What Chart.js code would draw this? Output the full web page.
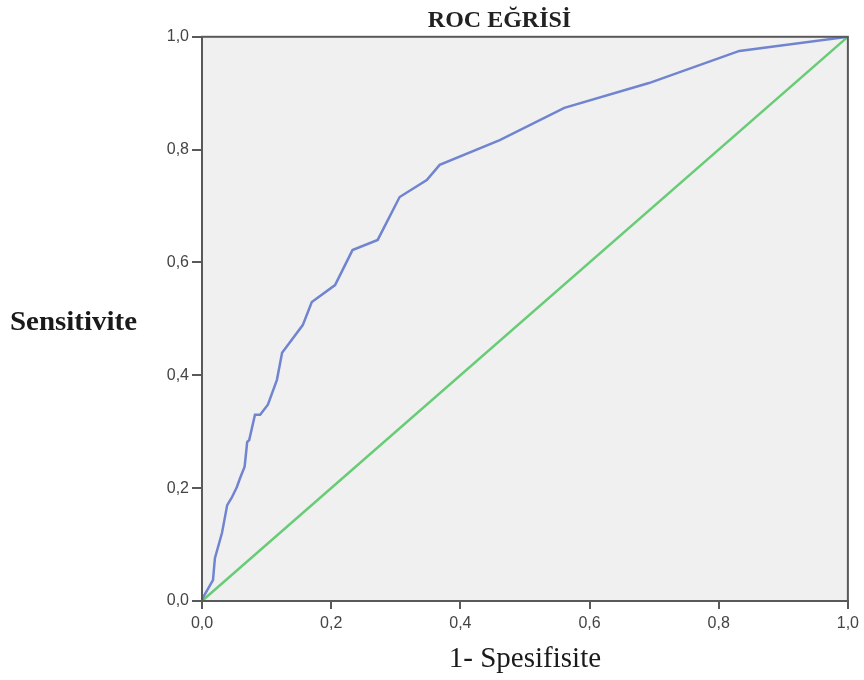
<!DOCTYPE html>
<html>
<head>
<meta charset="utf-8">
<script src="https://cdn.jsdelivr.net/npm/chart.js@4.4.1/dist/chart.umd.min.js"></script>
<style>
  html, body { margin: 0; padding: 0; background: #ffffff; }
  #wrap { position: relative; width: 864px; height: 680px; }
</style>
</head>
<body>
<div id="wrap"><canvas id="c" width="864" height="680"></canvas></div>
<script>
// ROC curve points: x = 1 - specificity, y = sensitivity
const rocX = [0, 0.001, 0.017, 0.020, 0.031, 0.039, 0.046, 0.054, 0.059, 0.066, 0.070, 0.073, 0.082, 0.090, 0.102, 0.116, 0.124, 0.156, 0.170, 0.206, 0.233, 0.272, 0.306, 0.348, 0.368, 0.461, 0.561, 0.692, 0.832, 1.0];
const rocY = [0, 0.005, 0.037, 0.076, 0.121, 0.170, 0.183, 0.202, 0.218, 0.238, 0.282, 0.285, 0.330, 0.330, 0.348, 0.392, 0.440, 0.489, 0.530, 0.560, 0.622, 0.640, 0.716, 0.746, 0.773, 0.817, 0.874, 0.918, 0.975, 1.0];
// Reference (chance) line
const refX = [0, 1];
const refY = [0, 1];
const tickValues = [0, 0.2, 0.4, 0.6, 0.8, 1.0];
const chartTitle = 'ROC EĞRİSİ';
const xTitle = '1- Spesifisite';
const yTitle = 'Sensitivite';

const toPts = (xs, ys) => xs.map((x, i) => ({ x: x, y: ys[i] }));
const fmt = v => v.toFixed(1).replace('.', ',');

const plotBg = {
  id: 'plotBg',
  beforeDraw(chart) {
    const { ctx, chartArea: a } = chart;
    ctx.save();
    ctx.fillStyle = '#f0f0f0';
    ctx.fillRect(a.left, a.top, a.right - a.left, a.bottom - a.top);
    ctx.restore();
  },
  afterDatasetsDraw(chart) {
    const { ctx, chartArea: a } = chart;
    ctx.save();
    ctx.strokeStyle = '#595959';
    ctx.lineWidth = 2;
    ctx.strokeRect(a.left, a.top, a.right - a.left, a.bottom - a.top);
    ctx.restore();
  },
  afterDraw(chart) {
    const { ctx } = chart;
    ctx.save();
    ctx.fillStyle = '#1a1a1a';
    ctx.font = 'bold 27px "Liberation Serif", "Times New Roman", serif';
    ctx.textAlign = 'left';
    ctx.textBaseline = 'middle';
    const w = ctx.measureText(yTitle).width;
    const targetW = 127;
    ctx.translate(10, 323);
    ctx.scale(targetW / w, 1);
    ctx.fillText(yTitle, 0, 0);
    ctx.restore();
  }
};

new Chart(document.getElementById('c'), {
  type: 'scatter',
  data: {
    datasets: [
      {
        label: 'ROC',
        data: toPts(rocX, rocY),
        showLine: true,
        borderColor: 'rgb(112,132,208)',
        borderWidth: 2.5,
        pointRadius: 0,
        tension: 0,
        fill: false
      },
      {
        label: 'Referans',
        data: toPts(refX, refY),
        showLine: true,
        borderColor: 'rgb(104,204,118)',
        borderWidth: 2.5,
        pointRadius: 0,
        fill: false
      }
    ]
  },
  options: {
    responsive: false,
    animation: false,
    layout: { padding: { left: 150, right: 15, top: 0, bottom: 0 } },
    plugins: {
      legend: { display: false },
      tooltip: { enabled: false },
      title: {
        display: true,
        text: chartTitle,
        color: '#222222',
        font: { family: '"Liberation Serif", "Times New Roman", serif', size: 24, weight: 'bold' },
        padding: { top: 6, bottom: 2 }
      }
    },
    scales: {
      x: {
        type: 'linear',
        min: 0, max: 1,
        afterBuildTicks(scale) { scale.ticks = tickValues.map(v => ({ value: v })); },
        afterFit(scale) { scale.height = 79; },
        grid: { display: true, drawOnChartArea: false, drawTicks: true, tickLength: 8, color: '#595959', lineWidth: 2 },
        border: { display: true, color: '#595959', width: 2 },
        ticks: {
          padding: 5,
          color: '#444444',
          font: { family: '"Liberation Sans", Arial, sans-serif', size: 16 },
          callback: v => fmt(v),
          maxRotation: 0
        },
        title: {
          display: true,
          text: xTitle,
          color: '#1a1a1a',
          font: { family: '"Liberation Serif", "Times New Roman", serif', size: 29 },
          padding: { top: 0, bottom: 3 }
        }
      },
      y: {
        type: 'linear',
        min: 0, max: 1,
        afterBuildTicks(scale) { scale.ticks = tickValues.map(v => ({ value: v })); },
        afterFit(scale) { scale.width = 52; },
        grid: { display: true, drawOnChartArea: false, drawTicks: true, tickLength: 10, color: '#595959', lineWidth: 2 },
        border: { display: true, color: '#595959', width: 2 },
        ticks: {
          padding: 3,
          color: '#444444',
          font: { family: '"Liberation Sans", Arial, sans-serif', size: 16 },
          callback: v => fmt(v)
        }
      }
    }
  },
  plugins: [plotBg]
});
</script>
</body>
</html>
